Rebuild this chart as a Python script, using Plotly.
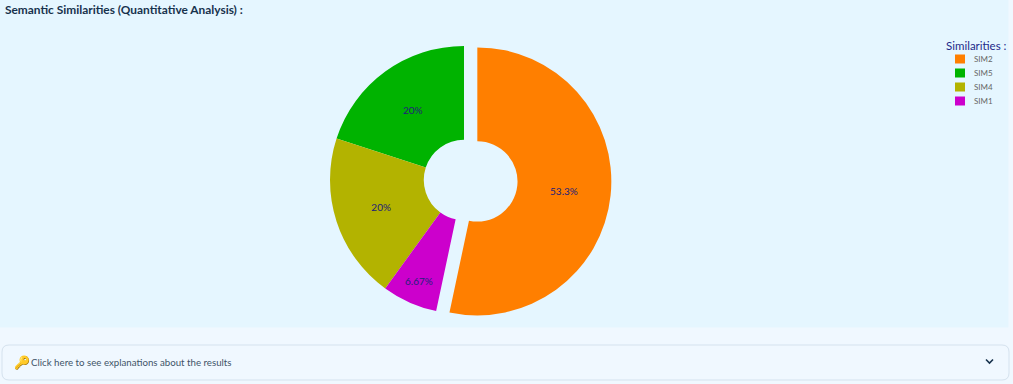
import plotly.graph_objects as go

labels = ["SIM2", "SIM5", "SIM4", "SIM1"]
values = [8, 3, 3, 1]
pulls = [0.1, 0, 0, 0]
colors = ["#ff7f00", "#00b300", "#b3b300", "#cc00cc"]
W, H = 1013, 384
FONT = "Lato"
cx, cy, half = 464, 180, 147.4


def px(x):
    return x / W


def py(y):
    return 1 - y / H


fig = go.Figure(go.Pie(
    labels=labels, values=values, pull=pulls, hole=0.3, sort=False,
    direction="counterclockwise", rotation=0,
    marker=dict(colors=colors, line=dict(width=0)),
    textinfo="percent", textposition="inside", insidetextorientation="horizontal",
    textfont=dict(size=10, color="#20207a", family=FONT),
    domain=dict(x=[px(cx - half), px(cx + half)], y=[py(cy + half), py(cy - half)]),
    showlegend=False,
))

box = (f"M {px(9)} {py(345)} L {px(1002)} {py(345)} Q {px(1009)} {py(345)} {px(1009)} {py(352)} "
       f"L {px(1009)} {py(373)} Q {px(1009)} {py(380)} {px(1002)} {py(380)} L {px(9)} {py(380)} "
       f"Q {px(2)} {py(380)} {px(2)} {py(373)} L {px(2)} {py(352)} Q {px(2)} {py(345)} {px(9)} {py(345)} Z")
shapes = [
    dict(type="rect", xref="paper", yref="paper", layer="below", x0=0, x1=px(1008.5),
         y0=py(327.5), y1=1, fillcolor="#e5f6ff", line=dict(width=0)),
    dict(type="path", xref="paper", yref="paper", layer="below", path=box,
         fillcolor="#f0f8ff", line=dict(color="#d5e2ee", width=1)),
    dict(type="path", xref="paper", yref="paper",
         path=f"M {px(986)} {py(359.5)} L {px(989.5)} {py(363)} L {px(993)} {py(359.5)}",
         line=dict(color="#17324d", width=1.6)),
]
annotations = [
    dict(text="<b>Semantic Similarities (Quantitative Analysis) :</b>", x=px(3), y=py(10),
         xanchor="left", yanchor="middle", font=dict(size=11.9, color="#17324d", family=FONT)),
    dict(text="🔑", x=px(12), y=py(362), xanchor="left", yanchor="middle",
         font=dict(size=13, color="#3f5468")),
    dict(text="Click here to see explanations about the results", x=px(29), y=py(362),
         xanchor="left", yanchor="middle", font=dict(size=9.7, color="#3f5468", family=FONT)),
    dict(text="Similarities :", x=px(944), y=py(45), xanchor="left", yanchor="middle",
         font=dict(size=11.5, color="#1f2a8a", family=FONT)),
]
for i, (name, col) in enumerate(zip(labels, colors)):
    yc = 59 + 14 * i
    shapes.append(dict(type="rect", xref="paper", yref="paper", x0=px(955), x1=px(965),
                       y0=py(yc + 4.5), y1=py(yc - 4.5), fillcolor=col, line=dict(width=0)))
    annotations.append(dict(text=name, x=px(972), y=py(yc), xanchor="left", yanchor="middle",
                            font=dict(size=8, color="#666", family=FONT)))
for a in annotations:
    a.update(xref="paper", yref="paper", showarrow=False)

fig.update_layout(
    width=W, height=H, margin=dict(l=0, r=0, t=0, b=0),
    paper_bgcolor="#f0f8ff", font=dict(family=FONT),
    showlegend=False, shapes=shapes, annotations=annotations,
)
fig.write_html("out.html", config=dict(displayModeBar=False),
               post_script="document.body.style.margin='0';document.body.style.overflow='hidden';")
